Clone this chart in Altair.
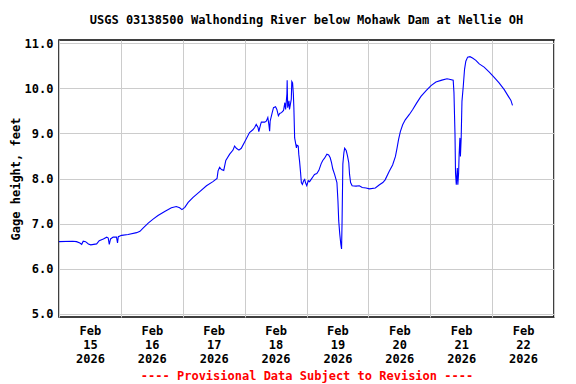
import altair as alt
import pandas as pd

# hours since 2026-02-15 00:00 and gage height (feet)
hours = [0, 5.3, 6.8, 8.1, 8.8, 9.4, 10.3, 11.4, 12.3, 14.6, 15.6, 17.2, 18.5, 19.1, 19.5, 20.0,
         21.0, 22.3, 22.7, 23.0, 24.3, 26.8, 30.1, 31.4, 32.6, 34.6, 36.5, 38.4, 41.0, 43.6,
         45.5, 46.8, 47.7, 48.8, 50.1, 52.0, 54.6, 57.2, 59.7, 61.3,
         61.7, 62.3, 63.0, 63.9, 64.7, 66.2, 67.5, 68.1, 68.8, 69.8, 70.7, 72.0, 73.9, 75.2,
         75.9, 76.5, 77.2, 77.5, 78.2, 78.5, 79.8, 80.4, 81.0, 81.4, 81.7, 81.9, 82.7, 83.2,
         84.0, 84.5, 85.1, 85.6, 86.3, 87.1, 87.6, 87.9, 88.4, 88.5, 88.7, 89.2, 89.4, 90.1,
         90.3, 90.6, 90.9, 91.1, 91.4, 92.1, 92.3, 92.8, 93.0, 93.3, 93.7, 94.0, 94.4, 94.9,
         95.3, 95.6, 96.1, 96.7, 97.2, 97.8, 98.5, 99.1, 100.0, 100.8, 101.7, 102.3, 103.0,
         103.9, 104.6, 105.2, 105.7, 106.2, 106.9, 107.8, 108.2, 108.5, 108.9, 109.3, 109.6,
         109.8, 110.1, 110.5, 110.8, 111.4, 111.9, 112.4, 112.7, 113.1, 113.7, 115.2, 116.5,
         117.6, 119.1, 120.4, 122.7, 124.3, 125.6, 126.5, 128.1, 129.4, 130.5, 131.1, 131.7,
         132.4, 133.3, 134.3, 135.9, 137.2, 138.7, 140.4, 142.4, 144.3, 146.2, 148.5, 150.5,
         151.4, 152.9, 153.2, 153.6, 153.8, 154.1, 154.5, 154.7, 155.0, 155.2, 155.5, 155.7,
         156.0, 156.3, 156.8, 157.3, 157.8, 158.5, 159.4, 160.4, 161.7, 163.0, 164.9, 166.9,
         168.8, 170.7, 172.7, 174.3, 175.3, 175.9]
gage = [6.60, 6.61, 6.60, 6.57, 6.54, 6.61, 6.60, 6.55, 6.53, 6.55, 6.62, 6.66, 6.70, 6.68, 6.54, 6.66,
        6.70, 6.70, 6.57, 6.71, 6.74, 6.76, 6.80, 6.83, 6.90, 7.01, 7.10, 7.18, 7.27, 7.35,
        7.38, 7.35, 7.31, 7.36, 7.47, 7.58, 7.71, 7.84, 7.93, 8.00,
        8.17, 8.25, 8.20, 8.18, 8.40, 8.54, 8.63, 8.72, 8.67, 8.63, 8.67, 8.81, 9.02, 9.08,
        9.13, 9.20, 9.13, 9.04, 9.20, 9.25, 9.25, 9.27, 9.35, 9.20, 9.05, 9.27, 9.46, 9.57,
        9.59, 9.53, 9.39, 9.44, 9.46, 9.51, 9.68, 9.53, 9.87, 10.18, 9.57, 9.72, 9.53, 9.76,
        10.15, 10.12, 9.87, 9.57, 8.90, 8.68, 8.74, 8.72, 8.54, 8.39, 8.13, 7.91, 7.87, 7.95,
        7.98, 7.91, 7.84, 7.95, 7.93, 7.98, 8.04, 8.09, 8.11, 8.18, 8.33, 8.40, 8.45,
        8.54, 8.52, 8.46, 8.35, 8.21, 8.09, 7.91, 7.50, 7.06, 6.77, 6.55, 6.44,
        7.06, 8.32, 8.57, 8.67, 8.62, 8.50, 8.35, 8.09, 7.91, 7.84, 7.83, 7.84,
        7.80, 7.79, 7.77, 7.79, 7.86, 7.91, 7.97, 8.16, 8.30, 8.49, 8.67, 8.86,
        9.04, 9.19, 9.30, 9.42, 9.53, 9.67, 9.82, 9.95, 10.06, 10.14, 10.18, 10.21,
        10.20, 10.18, 9.90, 8.97, 8.12, 7.86, 8.23, 7.86, 8.12, 8.53, 8.90, 8.49,
        8.90, 9.71, 10.04, 10.42, 10.60, 10.69, 10.70, 10.67, 10.62, 10.54, 10.47, 10.36,
        10.24, 10.12, 9.97, 9.82, 9.73, 9.62]

days = [15, 16, 17, 18, 19, 20, 21, 22]
y_ticks = [5.0, 6.0, 7.0, 8.0, 9.0, 10.0, 11.0]
title_text = "USGS 03138500 Walhonding River below Mohawk Dam at Nellie OH"
footer_text = "---- Provisional Data Subject to Revision ----"
y_title = "Gage height, feet"

HOUR = 3600000
start_ms = int(pd.Timestamp("2026-02-15", tz="UTC").value // 10**6)
end_ms = start_ms + 24 * HOUR * len(days)
tick_vals = [start_ms + 12 * HOUR * i for i in range(2 * len(days) + 1)]

df = pd.DataFrame({"t": [start_ms + h * HOUR for h in hours], "gage": gage})

FONT = "DejaVu Sans Mono"

chart = alt.Chart(df).mark_line(color="#0000FF", strokeWidth=1.1).encode(
    x=alt.X(
        "t:T",
        scale=alt.Scale(type="utc", domain=[start_ms, end_ms], nice=False),
        axis=alt.Axis(
            values=tick_vals,
            grid=True,
            gridColor="#CCCCCC",
            gridWidth=1,
            gridOpacity={"condition": {"test": "utchours(datum.value) === 0", "value": 1}, "value": 0},
            ticks=False,
            domain=False,
            labelExpr="utchours(datum.value) === 12 ? [utcFormat(datum.value, '%b'), utcFormat(datum.value, '%d'), utcFormat(datum.value, '%Y')] : ''",
            labelOverlap=False,
            labelFlush=False,
            labelPadding=8,
            labelLineHeight=14,
            labelBaseline="top",
            labelFont=FONT,
            labelFontSize=12,
            labelFontWeight="bold",
            labelColor="#000000",
            title=footer_text,
            titleFont=FONT,
            titleFontSize=12,
            titleFontWeight="bold",
            titleColor="#FF0000",
            titlePadding=6,
        ),
    ),
    y=alt.Y(
        "gage:Q",
        scale=alt.Scale(domain=[4.93, 11.07], nice=False, zero=False),
        axis=alt.Axis(
            values=y_ticks,
            format=".1f",
            grid=True,
            gridColor="#CCCCCC",
            gridWidth=1,
            ticks=False,
            domain=False,
            labelPadding=6,
            labelFont=FONT,
            labelFontSize=12,
            labelFontWeight="bold",
            labelColor="#000000",
            title=y_title,
            titleFont=FONT,
            titleFontSize=12,
            titleFontWeight="bold",
            titleColor="#000000",
            titlePadding=2,
        ),
    ),
).properties(
    width=495,
    height=277,
    title=alt.TitleParams(title_text, font=FONT, fontSize=12, fontWeight="bold",
                          color="#000000", anchor="middle", offset=10),
    autosize=alt.AutoSizeParams(type="none"),
    padding={"left": 51, "top": 32, "right": 14, "bottom": 66},
    background="#FFFFFF",
).configure_view(stroke="#000000", strokeWidth=1.5)

chart.save("out.html", embed_options={"renderer": "svg", "actions": False})
